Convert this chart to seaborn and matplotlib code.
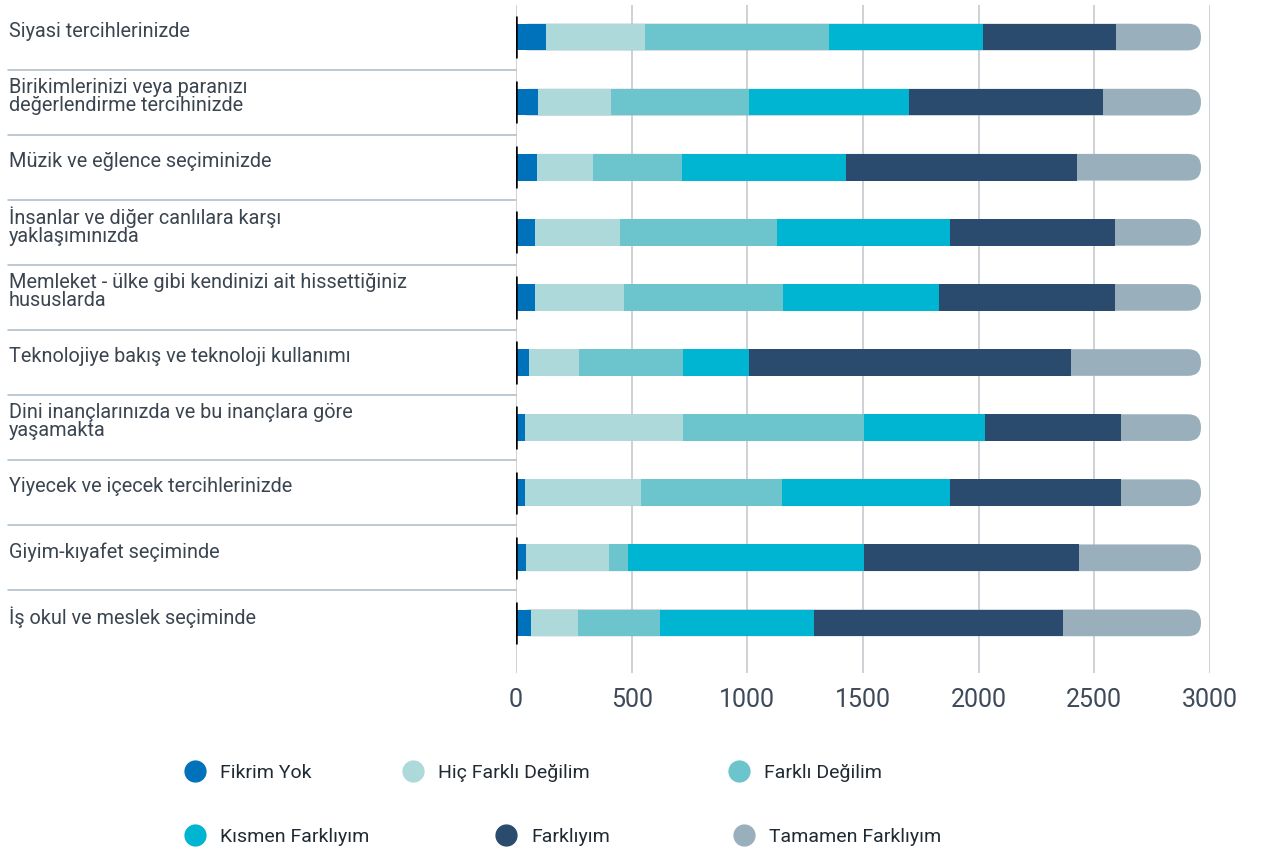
import numpy as np
import pandas as pd
import seaborn as sns
import matplotlib.pyplot as plt
from matplotlib.lines import Line2D
from matplotlib.patches import FancyBboxPatch
import matplotlib.transforms as mtransforms

# categories (top to bottom)
categories = [
    "Siyasi tercihlerinizde",
    "Birikimlerinizi veya paranızı\ndeğerlendirme tercihinizde",
    "Müzik ve eğlence seçiminizde",
    "İnsanlar ve diğer canlılara karşı\nyaklaşımınızda",
    "Memleket - ülke gibi kendinizi ait hissettiğiniz\nhususlarda",
    "Teknolojiye bakış ve teknoloji kullanımı",
    "Dini inançlarınızda ve bu inançlara göre\nyaşamakta",
    "Yiyecek ve içecek tercihlerinizde",
    "Giyim-kıyafet seçiminde",
    "İş okul ve meslek seçiminde",
]

series_names = ["Fikrim Yok", "Hiç Farklı Değilim", "Farklı Değilim",
                "Kısmen Farklıyım", "Farklıyım", "Tamamen Farklıyım"]

fikrim_yok = [128, 94, 90, 81, 81, 55, 38, 38, 42, 64]
hic_farkli_degilim = [428, 315, 242, 368, 384, 216, 683, 501, 359, 203]
farkli_degilim = [796, 597, 385, 679, 688, 450, 783, 609, 82, 354]
kismen_farkliyim = [667, 692, 710, 748, 675, 285, 523, 728, 1021, 666]
farkliyim = [574, 839, 997, 712, 760, 1394, 589, 740, 930, 1079]
tamamen_farkliyim = [368, 424, 537, 373, 373, 561, 345, 345, 527, 595]

x_ticks = [0, 500, 1000, 1500, 2000, 2500, 3000]

colors = ["#0072bb", "#aed9da", "#6cc4cc", "#00b5d1", "#2a4b6d", "#9aafbc"]

df = pd.DataFrame({
    "Fikrim Yok": fikrim_yok,
    "Hiç Farklı Değilim": hic_farkli_degilim,
    "Farklı Değilim": farkli_degilim,
    "Kısmen Farklıyım": kismen_farkliyim,
    "Farklıyım": farkliyim,
    "Tamamen Farklıyım": tamamen_farkliyim,
}, index=categories)
cum = df.cumsum(axis=1)

sns.set_style("white")
plt.rcParams['font.family'] = ['Roboto', 'DejaVu Sans']

W, H = 1262, 855
fig = plt.figure(figsize=(W / 100, H / 100), dpi=100)
ax_left, ax_right, ax_top, ax_bot = 516, 1210, 4.5, 673
ax = fig.add_axes([ax_left / W, 1 - ax_bot / H, (ax_right - ax_left) / W, (ax_bot - ax_top) / H])

bar_h = 0.41
# stacked bars: draw cumulative totals from the largest down
total_patches = None
for name, col in reversed(list(zip(series_names, colors))):
    n_before = len(ax.patches)
    sns.barplot(x=cum[name].values, y=categories, color=col, width=bar_h,
                saturation=1, errorbar=None, orient="h", ax=ax, zorder=2,
                linewidth=0, edgecolor="none")
    if total_patches is None:
        total_patches = list(ax.patches[n_before:])

ax.set_xlim(0, 3000)
ax.set_ylim(9.77, -0.5)

# rounded right end on the last segment
px_per_x = (ax_right - ax_left) / 3000
px_per_y = (ax_bot - ax_top) / 10.27
r_px = 13
r_x = r_px / px_per_x
aspect = (r_px / px_per_y) / r_x
for p in total_patches:
    fb = FancyBboxPatch((p.get_x(), p.get_y()), p.get_width(), p.get_height(),
                        boxstyle=f"round,pad=0,rounding_size={r_x}",
                        mutation_aspect=aspect, facecolor=colors[-1],
                        edgecolor="none", zorder=1.9)
    ax.add_patch(fb)
    p.remove()

# black start markers
ax.vlines([0] * len(categories), np.arange(len(categories)) - 0.325,
          np.arange(len(categories)) + 0.325, color="black", lw=1.8, zorder=5)

# grid and axes
ax.set_axisbelow(True)
ax.grid(axis="x", color="#c6cbd0", lw=1.2)
ax.grid(axis="y", visible=False)
for s in ax.spines.values():
    s.set_visible(False)
ax.set_xticks(x_ticks)
ax.set_xticklabels([str(t) for t in x_ticks], fontsize=18, color="#3e4a59")
ax.tick_params(axis="x", length=0, pad=11)
ax.set_yticks([])
ax.set_xlabel("")
ax.set_ylabel("")

# row labels and separators
trans = mtransforms.blended_transform_factory(fig.transFigure, ax.transData)
for i, lab in enumerate(categories):
    ax.text(9 / W, i - 0.09, lab, transform=trans, ha="left", va="center",
            fontsize=14.3, color="#3b4550", linespacing=0.92)
for i in range(len(categories) - 1):
    ax.axhline(i + 0.5, xmin=(8 - ax_left) / (ax_right - ax_left), xmax=0,
               color="#a9b9c6", lw=1.1, clip_on=False)

# legend, one entry per position
legend_pos = [(195, 773), (413, 773), (739, 773), (195, 837), (506, 837), (744, 837)]
for name, col, (mx, my) in zip(series_names, colors, legend_pos):
    h = Line2D([], [], marker="o", linestyle="none", markersize=15, color=col)
    fig.legend(handles=[h], labels=[name], loc="center left",
               bbox_to_anchor=((mx - 9.7) / W, 1 - my / H), frameon=False,
               borderpad=0, borderaxespad=0, handlelength=1.0,
               handletextpad=0.8, fontsize=14, labelcolor="#1f2a33")

fig.savefig("out.png", dpi=100)
